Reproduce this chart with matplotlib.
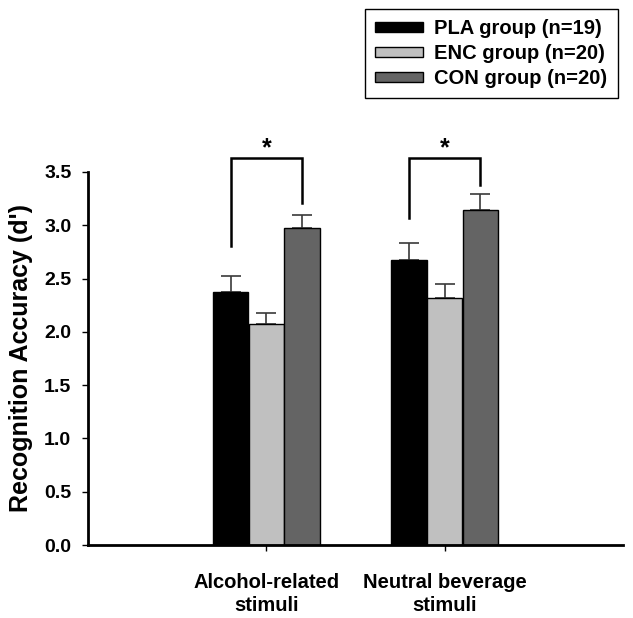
import matplotlib.pyplot as plt
from matplotlib.patches import Patch

plt.rcParams['font.family'] = ['Liberation Sans', 'DejaVu Sans']
plt.rcParams['font.weight'] = 'bold'

categories = ['Alcohol-related\nstimuli', 'Neutral beverage\nstimuli']
groups = ['PLA group (n=19)', 'ENC group (n=20)', 'CON group (n=20)']
colors = ['#000000', '#c0c0c0', '#646464']

pla = [2.37, 2.67]
enc = [2.07, 2.32]
con = [2.97, 3.14]
pla_err = [0.15, 0.16]
enc_err = [0.11, 0.13]
con_err = [0.13, 0.15]

# significance brackets: (left bottom, right bottom, top) per category
br_left = [2.81, 3.07]
br_right = [3.21, 3.38]
br_top = [3.63, 3.63]

fig = plt.figure(figsize=(6.33, 6.18), dpi=100)
ax = fig.add_axes([88 / 633, 73 / 618, 535 / 633, 373 / 618])

x = [1, 2]
w = 0.2
series = [(pla, pla_err), (enc, enc_err), (con, con_err)]
for i, (vals, errs) in enumerate(series):
    pos = [xi + (i - 1) * w for xi in x]
    ax.bar(pos, vals, w, color=colors[i], edgecolor='black', linewidth=1.0, zorder=2)
    ax.errorbar(pos, vals, yerr=[[0] * len(errs), errs], fmt='none', ecolor='#3a3a3a',
                elinewidth=1.2, capsize=7, capthick=1.2, zorder=1)

for j, xi in enumerate(x):
    xl, xr = xi - w, xi + w
    ax.plot([xl, xl, xr, xr], [br_left[j], br_top[j], br_top[j], br_right[j]],
            color='black', lw=1.8, clip_on=False, solid_joinstyle='miter')
    ax.text(xi, 3.72, '*', ha='center', va='center', fontsize=18,
            fontweight='bold', clip_on=False)

ax.set_xlim(0, 3)
ax.set_ylim(0, 3.5)
ax.set_xticks(x)
ax.set_xticklabels(categories, fontsize=14.5, fontweight='bold', linespacing=1.3)
ax.set_yticks([0, 0.5, 1.0, 1.5, 2.0, 2.5, 3.0, 3.5])
ax.set_yticklabels(['%.1f' % t for t in ax.get_yticks()], fontsize=14, fontweight='bold')
ax.tick_params(axis='x', length=4, width=1, pad=16)
ax.tick_params(axis='y', length=4, width=1, pad=8)
ax.set_ylabel("Recognition Accuracy (d')", fontsize=18, fontweight='bold', labelpad=8)

for s in ['top', 'right']:
    ax.spines[s].set_visible(False)
for s in ['left', 'bottom']:
    ax.spines[s].set_linewidth(2)

handles = [Patch(facecolor=c, edgecolor='black', linewidth=1) for c in colors]
fig.legend(handles, groups, loc='upper left', bbox_to_anchor=(365 / 633, 1 - 9 / 618),
           borderaxespad=0, fancybox=False, edgecolor='black', framealpha=1,
           handlelength=2.4, handleheight=0.4, prop={'size': 14.5, 'weight': 'bold'},
           labelspacing=0.3, borderpad=0.5, handletextpad=0.55)

fig.savefig('out.png', dpi=100)
